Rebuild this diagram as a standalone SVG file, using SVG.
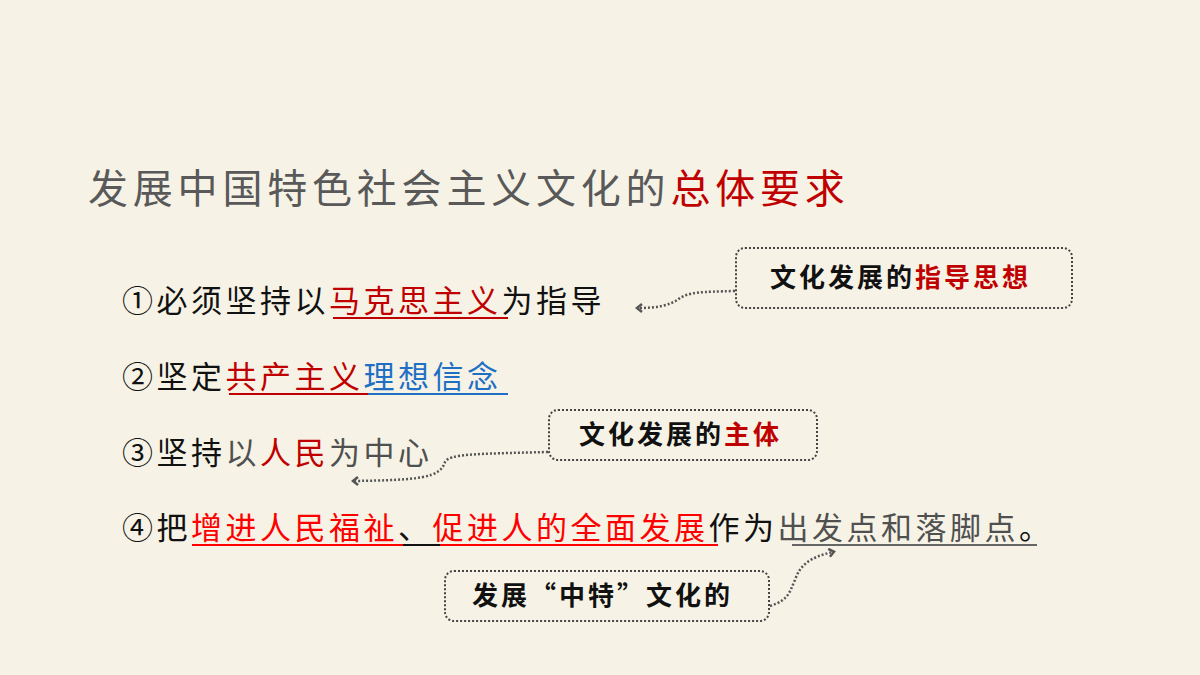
<svg xmlns="http://www.w3.org/2000/svg" width="1200" height="675" viewBox="0 0 1200 675">
<style>
text{font-family:"Noto Sans CJK SC","Noto Sans",sans-serif}
.t{font-size:40px;letter-spacing:4.8px;fill:#595959}
.i{font-size:31px;letter-spacing:3.5px;fill:#111}
.r{fill:#c00000}.rr{fill:#ff0000}.b{fill:#1f6fc5}.g{fill:#505050}
.bx{fill:none;stroke:#444;stroke-width:2;stroke-dasharray:2 2}
.bt{font-size:26px;font-weight:bold;letter-spacing:3px;fill:#111}
.c{fill:none;stroke:#555;stroke-width:2.5;stroke-dasharray:2 2}
.u{stroke-width:2}
</style>
<defs><marker id="a" markerWidth="10" markerHeight="10" refX="5" refY="5" orient="auto" markerUnits="userSpaceOnUse"><path d="M1,1 L6,5 L1,9" fill="none" stroke="#555" stroke-width="2.5"/></marker></defs>
<rect width="1200" height="675" fill="#f6f3e6"/>
<g id="title"><text class="t" x="88" y="203">发展中国特色社会主义文化的<tspan class="r">总体要求</tspan></text></g>
<g id="item1"><text class="i" x="122" y="312">①必须坚持以<tspan class="r">马克思主义</tspan>为指导</text>
<line class="u" x1="333" y1="318" x2="508" y2="318" stroke="#c00000"/></g>
<g id="item2"><text class="i" x="122" y="388">②坚定<tspan class="r">共产主义</tspan><tspan class="b">理想信念</tspan></text>
<line class="u" x1="229" y1="394" x2="368" y2="394" stroke="#c00000"/><line class="u" x1="368" y1="394" x2="508" y2="394" stroke="#1f6fc5"/></g>
<g id="item3"><text class="i" x="122" y="464">③坚持<tspan class="g">以</tspan><tspan class="r">人民</tspan><tspan class="g">为中心</tspan></text></g>
<g id="item4"><text class="i" x="122" y="539">④把<tspan class="rr">增进人民福祉</tspan>、<tspan class="rr">促进人的全面发展</tspan>作为<tspan class="g">出发点和落脚点</tspan>。</text>
<line class="u" x1="192" y1="545" x2="403" y2="545" stroke="#ff0000"/><line class="u" x1="403" y1="545" x2="440" y2="545" stroke="#111"/><line class="u" x1="440" y1="545" x2="718" y2="545" stroke="#ff0000"/><line class="u" x1="792" y1="545" x2="1037" y2="545" stroke="#666"/></g>
<g id="box1"><rect class="bx" x="736" y="248" width="336" height="60" rx="9"/><text class="bt" x="770" y="287">文化发展的<tspan class="r">指导思想</tspan></text></g>
<g id="box2"><rect class="bx" x="549" y="410" width="268" height="50" rx="9"/><text class="bt" x="579" y="444">文化发展的<tspan class="r">主体</tspan></text></g>
<g id="box3"><rect class="bx" x="445" y="571" width="324" height="50" rx="9"/><text class="bt" x="472" y="605">发展“中特”文化的</text></g>
<g id="connectors">
<path class="c" d="M735,291 C700,292 690,292 680,298 C670,306 655,308 638,308" marker-end="url(#a)"/>
<path class="c" d="M548,452 C470,454 450,454 445,462 C440,478 420,480 354,481" marker-end="url(#a)"/>
<path class="c" d="M770,606 C790,600 790,590 795,580 C800,565 810,557 833,552" marker-end="url(#a)"/>
</g>
</svg>
